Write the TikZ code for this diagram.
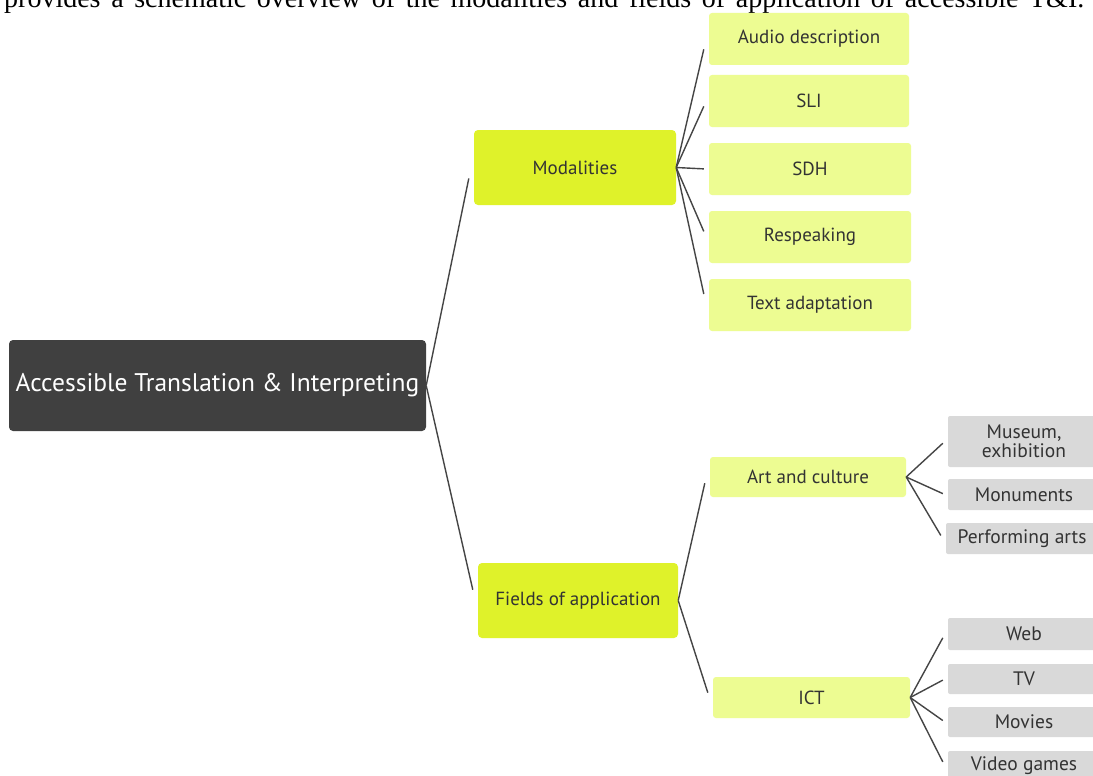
\documentclass[tikz,border=0pt]{standalone}
\usepackage{fontspec}
\setmainfont{PT Sans}
\newfontfamily\serifpage{Liberation Serif}
\usetikzlibrary{calc}
\definecolor{rootfill}{HTML}{404040}
\definecolor{midfill}{HTML}{DFF22A}
\definecolor{leaffill}{HTML}{EDFC92}
\definecolor{grayfill}{HTML}{D9D9D9}
\definecolor{txt}{HTML}{333333}
\definecolor{linec}{HTML}{454545}
\tikzset{
  rootbox/.style={fill=rootfill, rounded corners=4pt, text=white, font=\fontsize{25.5}{28}\selectfont, inner sep=0pt},
  midbox/.style={fill=midfill, rounded corners=4pt, text=txt, font=\fontsize{19}{22}\selectfont, inner sep=0pt},
  leafbox/.style={fill=leaffill, rounded corners=3pt, text=txt, font=\fontsize{19}{22}\selectfont, inner sep=0pt},
  graybox/.style={fill=grayfill, rounded corners=2pt, text=txt, font=\fontsize{19.5}{22}\selectfont, inner sep=0pt, align=center},
  conn/.style={draw=linec, line width=1.4pt},
}
\newcommand\linkto[3]{\draw[conn] (#1.east) -- ($(#2.west)!#3!(#2.west|-#1.east)+(-5,0)$);}
\begin{document}
\begin{tikzpicture}[x=1pt,y=-1pt]
\useasboundingbox (0,0) rectangle (1093,776);
\clip (0,0) rectangle (1093,776);
\fill[white] (0,0) rectangle (1093,776);
% clipped page text
\node[anchor=base west, inner sep=0pt, font=\serifpage\fontsize{28}{30}\selectfont] (pagetext) at (4,8)
  {\makebox[1080pt][s]{provides a schematic overview of the modalities and fields of application of accessible T\&I.}};
% nodes
\node[rootbox, minimum width=417, minimum height=91] (root) at (217.5,385.5) {Accessible Translation \& Interpreting};
\node[midbox, minimum width=202, minimum height=75] (mod) at (575,167.5) {Modalities};
\node[midbox, minimum width=200, minimum height=75] (fld) at (578,600.5) {Fields of application};
\node[leafbox, minimum width=200, minimum height=52] (ad) at (809,39) {Audio description};
\node[leafbox, minimum width=200, minimum height=52] (sli) at (809,101) {SLI};
\node[leafbox, minimum width=202, minimum height=52] (sdh) at (810,169) {SDH};
\node[leafbox, minimum width=202, minimum height=52] (resp) at (810,237) {Respeaking};
\node[leafbox, minimum width=202, minimum height=52] (ta) at (810,305) {Text adaptation};
\node[leafbox, minimum width=196, minimum height=40] (art) at (808,477) {Art and culture};
\node[leafbox, minimum width=197, minimum height=41] (ict) at (811.5,697.5) {ICT};
\node[graybox, minimum width=152, minimum height=51] (mus) at (1024,441.5) {Museum,\\[-3pt]exhibition};
\node[graybox, minimum width=152, minimum height=31] (mon) at (1024,494.5) {Monuments};
\node[graybox, minimum width=152, minimum height=31] (perf) at (1022,538.5) {Performing arts};
\node[graybox, minimum width=152, minimum height=32] (web) at (1024,634) {Web};
\node[graybox, minimum width=152, minimum height=30] (tv) at (1024,679) {TV};
\node[graybox, minimum width=152, minimum height=30] (mov) at (1024,722) {Movies};
\node[graybox, minimum width=152, minimum height=30] (vg) at (1024,766) {Video games};
% connectors
\linkto{root}{mod}{0.05}
\linkto{root}{fld}{0.05}
\linkto{mod}{ad}{0.08}
\linkto{mod}{sli}{0.08}
\linkto{mod}{sdh}{0.08}
\linkto{mod}{resp}{0.08}
\linkto{mod}{ta}{0.08}
\linkto{fld}{art}{0.05}
\linkto{fld}{ict}{0.05}
\linkto{art}{mus}{0.05}
\linkto{art}{mon}{0.05}
\linkto{art}{perf}{0.05}
\linkto{ict}{web}{0.06}
\linkto{ict}{tv}{0.06}
\linkto{ict}{mov}{0.06}
\linkto{ict}{vg}{0.06}
\end{tikzpicture}
\end{document}
